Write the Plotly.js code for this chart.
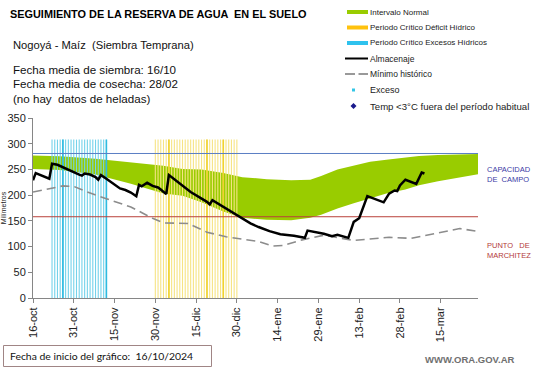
<!DOCTYPE html>
<html><head><meta charset="utf-8">
<script src="https://cdn.plot.ly/plotly-3.0.1.min.js"></script>
<style>html,body{margin:0;padding:0;background:#fff;}#chart{width:541px;height:368px;}</style>
</head><body><div id="chart"></div>
<script>
// ---------- DATA ----------
const bandDates = ['2024-10-16','2024-10-26','2024-11-08','2024-11-21','2024-12-03','2024-12-10','2024-12-17','2024-12-25','2025-01-01','2025-01-10','2025-01-19','2025-01-26','2025-01-30','2025-02-05','2025-02-11','2025-02-17','2025-02-23','2025-03-02','2025-03-07','2025-03-14','2025-03-19','2025-03-29'];
const bandUpper = [277,275.5,271,263,257,251,250,243,235,231,229,230,237,250,258,265,269,273,276,278,279,280];
const bandLower = [251,249,240,222,203,199,186,168,156,152,151,156,162,174,184,194,203,211,219,227,232,241];

const storageDates = ['2024-10-16','2024-10-17','2024-10-22','2024-10-23','2024-10-25','2024-10-27','2024-10-30','2024-11-01','2024-11-02','2024-11-03','2024-11-04','2024-11-06','2024-11-08','2024-11-09','2024-11-10','2024-11-12','2024-11-15','2024-11-17','2024-11-19','2024-11-21','2024-11-23','2024-11-24','2024-11-25','2024-11-27','2024-11-29','2024-12-01','2024-12-02','2024-12-04','2024-12-05','2024-12-07','2024-12-09','2024-12-13','2024-12-19','2024-12-20','2024-12-21','2024-12-25','2024-12-30','2025-01-04','2025-01-07','2025-01-11','2025-01-15','2025-01-20','2025-01-24','2025-01-25','2025-01-31','2025-02-03','2025-02-05','2025-02-09','2025-02-11','2025-02-12','2025-02-13','2025-02-16','2025-02-22','2025-02-24','2025-02-26','2025-02-27','2025-02-28','2025-03-02','2025-03-06','2025-03-08','2025-03-09'];
const storageValues = [229,243,232,261,259,254,246,242,240,238,242,240,235,230,239,232,221,213,210,205,198,220,217,224,218,215,211,202,239,231,223,206,187,182,190,177,160,145,138,130,124,121,117,131,125,120,123,117,148,152,155,198,186,203,209,208,219,230,222,244,242];

const minDates = ['2024-10-16','2024-10-22','2024-10-27','2024-10-31','2024-11-05','2024-11-12','2024-11-21','2024-11-29','2024-12-03','2024-12-12','2024-12-19','2024-12-26','2025-01-01','2025-01-07','2025-01-12','2025-01-16','2025-01-23','2025-01-28','2025-01-31','2025-02-11','2025-02-17','2025-02-24','2025-03-04','2025-03-13','2025-03-22','2025-03-28'];
const minValues = [206,213,218,217,206,193,177,155,146,145,128,119,114,110,101,102,113,118,122,112,115,118,116,125,135,130];

const excessPeriodDays = ['2024-10-23','2024-10-24','2024-10-25','2024-10-26','2024-10-27','2024-10-28','2024-10-29','2024-10-30','2024-10-31','2024-11-01','2024-11-02','2024-11-03','2024-11-04','2024-11-05','2024-11-06','2024-11-07','2024-11-08','2024-11-09','2024-11-10','2024-11-11','2024-11-12'];
const excessStrongDays = ['2024-10-27','2024-11-12'];
const deficitPeriodDays = ['2024-11-30','2024-12-01','2024-12-02','2024-12-03','2024-12-04','2024-12-05','2024-12-06','2024-12-07','2024-12-08','2024-12-09','2024-12-10','2024-12-11','2024-12-12','2024-12-13','2024-12-14','2024-12-15','2024-12-16','2024-12-17','2024-12-18','2024-12-19','2024-12-20','2024-12-21','2024-12-22','2024-12-23','2024-12-24','2024-12-25','2024-12-26','2024-12-27','2024-12-28','2024-12-29','2024-12-30'];
const deficitStrongDays = ['2024-12-05','2024-12-19','2024-12-25'];
const periodTop = 308;

const fieldCapacity = 281;
const wiltingPoint = 158;
const refLineDates = ['2024-10-16','2025-03-29'];

const tickDates = ['2024-10-16','2024-10-31','2024-11-15','2024-11-30','2024-12-15','2024-12-30','2025-01-14','2025-01-29','2025-02-13','2025-02-28','2025-03-15'];
const tickLabels = ['16-oct','31-oct','15-nov','30-nov','15-dic','30-dic','14-ene','29-ene','13-feb','28-feb','15-mar'];
const yTicks = [0,50,100,150,200,250,300,350];

const legendLabels = ['Intervalo Normal','Periodo Crítico Déficit Hídrico','Periodo Crítico Excesos Hídricos','Almacenaje','Mínimo histórico','Exceso','Temp <3°C fuera del período habitual'];

// ---------- helpers ----------
const W = 541, H = 368, ML = 33, MR = 63, MT = 118, MB = 70;
const PW = W - ML - MR, PH = H - MT - MB;
const px = x => (x - ML) / PW;
const py = y => (H - MB - y) / PH;
const FONT = 'Liberation Sans, Arial, sans-serif';

function stripes(days, top) {
  const xs = [], ys = [];
  days.forEach(d => { xs.push(d, d, null); ys.push(0, top, null); });
  return {x: xs, y: ys};
}
const exS = stripes(excessPeriodDays, periodTop);
const exS2 = stripes(excessStrongDays, periodTop);
const dfS = stripes(deficitPeriodDays, periodTop);
const dfS2 = stripes(deficitStrongDays, periodTop);

const traces = [
  {x: bandDates, y: bandLower, mode: 'lines', line: {width: 0, color: '#99CC00'}, showlegend: false, name: 'Intervalo Normal (mín)'},
  {x: bandDates, y: bandUpper, mode: 'lines', fill: 'tonexty', fillcolor: '#99CC00', line: {width: 0, color: '#99CC00'}, showlegend: false, name: 'Intervalo Normal'},
  {x: exS.x, y: exS.y, mode: 'lines', line: {width: 1.1, color: '#74d2ea'}, showlegend: false, name: 'Periodo Crítico Excesos Hídricos'},
  {x: exS2.x, y: exS2.y, mode: 'lines', line: {width: 1.6, color: '#2fbbe0'}, showlegend: false, name: 'Excesos (fuerte)'},
  {x: dfS.x, y: dfS.y, mode: 'lines', line: {width: 1.1, color: '#f6e484'}, showlegend: false, name: 'Periodo Crítico Déficit Hídrico'},
  {x: dfS2.x, y: dfS2.y, mode: 'lines', line: {width: 1.6, color: '#f0d22e'}, showlegend: false, name: 'Déficit (fuerte)'},
  {x: refLineDates, y: [fieldCapacity, fieldCapacity], mode: 'lines', line: {width: 1, color: '#5b7fc4'}, showlegend: false, name: 'Capacidad de campo'},
  {x: refLineDates, y: [wiltingPoint, wiltingPoint], mode: 'lines', line: {width: 1, color: '#b9403a'}, showlegend: false, name: 'Punto de marchitez'},
  {x: minDates, y: minValues, mode: 'lines', line: {width: 1.6, color: '#8c8c8c', dash: '9px,5px'}, showlegend: false, name: 'Mínimo histórico'},
  {x: storageDates, y: storageValues, mode: 'lines', line: {width: 2.5, color: '#000000'}, showlegend: false, name: 'Almacenaje'}
];

const ann = [];
function txt(t, x, y, size, color, opts) {
  ann.push(Object.assign({text: t, xref: 'paper', yref: 'paper', x: px(x), y: py(y), xanchor: 'left', yanchor: 'middle', showarrow: false, font: {family: FONT, size: size, color: color}}, opts || {}));
}
txt('<b>SEGUIMIENTO DE LA RESERVA DE AGUA  EN EL SUELO</b>', 8, 14, 10.9, '#000');
txt('Nogoyá - Maíz  (Siembra Temprana)', 11, 45, 11.2, '#111');
txt('Fecha media de siembra: 16/10', 11, 69, 11.6, '#111');
txt('Fecha media de cosecha: 28/02', 11, 83.5, 11.6, '#111');
txt('(no hay  datos de heladas)', 11, 98, 11.6, '#111');
const legY = [12, 27.5, 43, 58.5, 74, 90, 106];
const legSize = [8, 8, 8, 8.5, 8.5, 9, 9.6];
legendLabels.forEach((l, i) => txt(l, 368, legY[i], legSize[i], '#222'));
txt('CAPACIDAD<br>DE  CAMPO', 485, 174.5, 7.5, '#3b3ba6', {align: 'left'});
txt('PUNTO   DE<br>MARCHITEZ', 485, 250, 7.5, '#b33a3a', {align: 'left'});
txt('Fecha de inicio del gráfico:  16/10/2024', 8, 356, 10.4, '#111', {font: {family: 'Lato, Liberation Sans, sans-serif', size: 10.4, color: '#111'}});
txt('<b>WWW.ORA.GOV.AR</b>', 423, 359.5, 9.5, '#707070');

const shp = [];
function rect(x0, y0, x1, y1, color) {
  shp.push({type: 'rect', xref: 'paper', yref: 'paper', x0: px(x0), x1: px(x1), y0: py(y0), y1: py(y1), fillcolor: color, line: {width: 0}});
}
function seg(x0, x1, y, color, w) {
  shp.push({type: 'line', xref: 'paper', yref: 'paper', x0: px(x0), x1: px(x1), y0: py(y), y1: py(y), line: {color: color, width: w}});
}
rect(347, 10, 368, 14, '#99CC00');
rect(347, 25.5, 368, 29.5, '#FFC20E');
rect(347, 41, 368, 45, '#2EC2EE');
seg(345, 368, 58.5, '#000', 2);
seg(345, 355, 74, '#999', 2);
seg(358.5, 368, 74, '#999', 2);
rect(352, 88.5, 355, 91.5, '#33c6e6');
shp.push({type: 'path', xref: 'paper', yref: 'paper', path: `M ${px(353.5)} ${py(103)} L ${px(356.5)} ${py(106)} L ${px(353.5)} ${py(109)} L ${px(350.5)} ${py(106)} Z`, fillcolor: '#1a1a8c', line: {width: 0}});
// bottom info box
shp.push({type: 'rect', xref: 'paper', yref: 'paper', x0: px(3.5), x1: px(211.5), y0: py(345.5), y1: py(366.5), line: {color: '#a08585', width: 1}, fillcolor: 'rgba(0,0,0,0)'});

const layout = {
  width: W, height: H,
  margin: {l: ML, r: MR, t: MT, b: MB, pad: 0},
  paper_bgcolor: '#fff', plot_bgcolor: '#fff',
  font: {family: FONT, size: 11, color: '#222'},
  showlegend: false,
  xaxis: {
    type: 'date', range: ['2024-10-16', '2025-03-28 17:00'],
    tickmode: 'array', tickvals: tickDates, ticktext: tickLabels, tickangle: -90,
    ticks: 'outside', ticklen: 4, tickcolor: '#868686', tickfont: {size: 11, color: '#222'},
    showline: true, linecolor: '#868686', linewidth: 1, showgrid: false, zeroline: false, fixedrange: true
  },
  yaxis: {
    range: [0, 350], tickmode: 'array', tickvals: yTicks,
    ticks: 'outside', ticklen: 4, tickcolor: '#868686', tickfont: {size: 11, color: '#222'},
    showline: true, linecolor: '#868686', linewidth: 1, showgrid: false, zeroline: false,
    title: {text: 'Milímetros', font: {size: 7, color: '#222'}, standoff: 2}, fixedrange: true
  },
  annotations: ann,
  shapes: shp
};
Plotly.newPlot('chart', traces, layout, {staticPlot: true, displayModeBar: false});
</script></body></html>
